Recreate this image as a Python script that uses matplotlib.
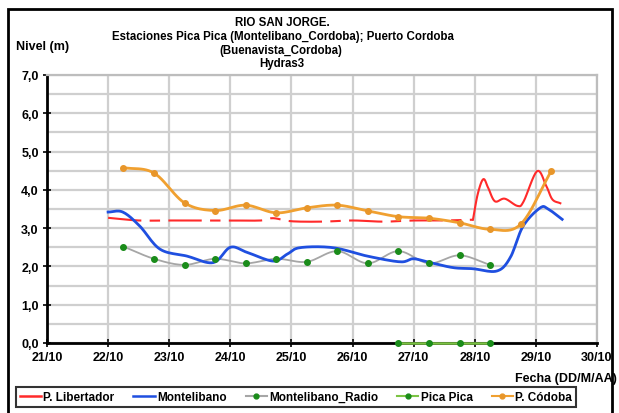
import numpy as np
import matplotlib
matplotlib.use("Agg")
import matplotlib.pyplot as plt
from matplotlib.lines import Line2D
from matplotlib.patches import Rectangle

plt.rcParams['font.family'] = ['Liberation Sans', 'DejaVu Sans']

# ---------------- data ----------------
x_ticks = [21, 22, 23, 24, 25, 26, 27, 28, 29, 30]
x_tick_labels = ["21/10", "22/10", "23/10", "24/10", "25/10", "26/10",
                 "27/10", "28/10", "29/10", "30/10"]
y_ticks = [0, 1, 2, 3, 4, 5, 6, 7]
y_tick_labels = ["0,0", "1,0", "2,0", "3,0", "4,0", "5,0", "6,0", "7,0"]

# P. Libertador (flat, dash-dot part)
lib_flat_x = [22.0, 22.5, 23.0, 23.5, 24.0, 24.5, 24.7, 25.0, 25.5, 26.0, 26.5, 27.0, 27.5, 27.97]
lib_flat_y = [3.27, 3.20, 3.20, 3.20, 3.20, 3.20, 3.26, 3.18, 3.17, 3.20, 3.17, 3.20, 3.20, 3.22]
# P. Libertador (spiky, solid part)
lib_spk_x = [27.97, 28.05, 28.14, 28.22, 28.33, 28.49, 28.70, 28.80, 29.02, 29.17, 29.27, 29.40]
lib_spk_y = [3.22, 3.90, 4.28, 4.05, 3.70, 3.77, 3.58, 3.70, 4.49, 4.10, 3.75, 3.65]

# Montelibano
mon_x = [22.0, 22.24, 22.52, 22.85, 23.29, 23.72, 24.0, 24.27, 24.7, 24.93, 25.14,
         25.68, 26.24, 26.78, 26.99, 27.22, 27.64, 27.97, 28.36, 28.58, 28.79,
         29.07, 29.2, 29.43]
mon_y = [3.42, 3.42, 3.05, 2.45, 2.27, 2.10, 2.50, 2.37, 2.14, 2.32, 2.49,
         2.49, 2.27, 2.12, 2.20, 2.12, 1.97, 1.94, 1.88, 2.23, 3.05,
         3.53, 3.50, 3.23]

# Montelibano_Radio
rad_x = [22.25, 22.75, 23.25, 23.75, 24.25, 24.75, 25.25, 25.75, 26.25, 26.75, 27.25, 27.75, 28.25]
rad_y = [2.52, 2.20, 2.04, 2.20, 2.08, 2.20, 2.12, 2.40, 2.08, 2.40, 2.08, 2.29, 2.04]

# Pica Pica
pica_x = [26.75, 27.25, 27.75, 28.25]
pica_y = [0.0, 0.0, 0.0, 0.0]

# P. Córdoba
cor_x = [22.25, 22.75, 23.25, 23.75, 24.25, 24.75, 25.25, 25.75, 26.25, 26.75,
         27.25, 27.75, 28.25, 28.75, 29.25]
cor_y = [4.58, 4.44, 3.66, 3.46, 3.60, 3.40, 3.53, 3.60, 3.45, 3.30,
         3.26, 3.14, 2.97, 3.10, 4.49]


def smooth(xs, ys, n=12):
    """Catmull-Rom smoothing (like Excel's smoothed lines)."""
    p = np.column_stack([xs, ys]).astype(float)
    if len(p) < 3:
        return p[:, 0], p[:, 1]
    ext = np.vstack([p[0] - (p[1] - p[0]), p, p[-1] + (p[-1] - p[-2])])
    out = []
    t = np.linspace(0, 1, n, endpoint=False)[:, None]
    for i in range(1, len(ext) - 2):
        p0, p1, p2, p3 = ext[i - 1], ext[i], ext[i + 1], ext[i + 2]
        c = 0.5 * ((2 * p1) + (-p0 + p2) * t + (2 * p0 - 5 * p1 + 4 * p2 - p3) * t ** 2
                   + (-p0 + 3 * p1 - 3 * p2 + p3) * t ** 3)
        out.append(c)
    out.append(p[-1][None, :])
    out = np.vstack(out)
    return out[:, 0], out[:, 1]


W, H = 619, 414
fig = plt.figure(figsize=(W / 100, H / 100), dpi=100)
ax = fig.add_axes([47 / W, 1 - 344 / H, (597 - 47) / W, (344 - 76) / H])

c_red = '#ff2a2a'
c_blue = '#1f4fe0'
c_gray = '#a6a6a6'
c_green_m = '#1a8c1a'
c_lgreen = '#7cc444'
c_orange = '#f0a030'
c_orange_m = '#e8962a'

# grid
ax.set_xlim(21, 30)
ax.set_ylim(0, 7)
ax.set_xticks(x_ticks)
ax.set_xticklabels(x_tick_labels, fontsize=9, fontweight='bold')
ax.set_yticks(y_ticks)
ax.set_yticklabels(y_tick_labels, fontsize=9, fontweight='bold')
ax.set_yticks(np.arange(0, 7.01, 0.5), minor=True)
ax.grid(True, which='both', color='#cfcfcf', linewidth=1.6)
ax.set_axisbelow(True)
ax.tick_params(axis='both', which='major', direction='inout', length=6, width=1.2, pad=3)
ax.tick_params(axis='y', which='minor', length=0)
for s in ['left', 'bottom']:
    ax.spines[s].set_color('black')
    ax.spines[s].set_linewidth(2.0)
for s in ['top', 'right']:
    ax.spines[s].set_color('#bdbdbd')
    ax.spines[s].set_linewidth(1.6)

# series
sx, sy = smooth(lib_flat_x, lib_flat_y)
ax.plot(sx, sy, color=c_red, lw=1.5, linestyle=(0, (16, 4, 5, 4)), zorder=3)
sx, sy = smooth(lib_spk_x, lib_spk_y, n=8)
ax.plot(sx, sy, color=c_red, lw=1.5, zorder=3)

sx, sy = smooth(mon_x, mon_y)
ax.plot(sx, sy, color=c_blue, lw=2.0, zorder=4)

sx, sy = smooth(rad_x, rad_y)
ax.plot(sx, sy, color=c_gray, lw=1.3, zorder=3)
ax.plot(rad_x, rad_y, linestyle='none', marker='o', ms=4, color=c_green_m, zorder=5)

ax.plot(pica_x, pica_y, color=c_lgreen, lw=1.8, zorder=5, clip_on=False)
ax.plot(pica_x, pica_y, linestyle='none', marker='o', ms=4, color=c_green_m, zorder=6, clip_on=False)

sx, sy = smooth(cor_x, cor_y)
ax.plot(sx, sy, color=c_orange, lw=2.0, zorder=4)
ax.plot(cor_x, cor_y, linestyle='none', marker='o', ms=4, color=c_orange_m, zorder=5)

# texts
tfs = 8.3
fig.text(282 / W, 1 - 23 / H, "RIO SAN JORGE.", ha='center', va='center', fontsize=tfs, fontweight='bold')
fig.text(283 / W, 1 - 37 / H, "Estaciones Pica Pica (Montelibano_Cordoba); Puerto Cordoba",
         ha='center', va='center', fontsize=tfs, fontweight='bold')
fig.text(281 / W, 1 - 51 / H, "(Buenavista_Cordoba)", ha='center', va='center', fontsize=tfs, fontweight='bold')
fig.text(282 / W, 1 - 64 / H, "Hydras3", ha='center', va='center', fontsize=tfs, fontweight='bold')
fig.text(43 / W, 1 - 47 / H, "Nivel (m)", ha='center', va='center', fontsize=9, fontweight='bold')
fig.text(617 / W, 1 - 379 / H, "Fecha (DD/M/AA)", ha='right', va='center', fontsize=9, fontweight='bold')

# legend
handles = [
    Line2D([], [], color=c_red, lw=1.8),
    Line2D([], [], color=c_blue, lw=1.8),
    Line2D([], [], color=c_gray, lw=1.5, marker='o', ms=3.5, mfc=c_green_m, mec=c_green_m),
    Line2D([], [], color=c_lgreen, lw=1.5, marker='o', ms=3.5, mfc=c_green_m, mec=c_green_m),
    Line2D([], [], color=c_orange, lw=1.5, marker='o', ms=3.5, mfc=c_orange_m, mec=c_orange_m),
]
labels = ["P. Libertador", "Montelibano", "Montelibano_Radio", "Pica Pica", "P. Códoba"]
leg = fig.legend(handles, labels, loc='center', bbox_to_anchor=(296 / W, 1 - 398 / H),
                 ncol=5, frameon=True, fancybox=False, handlelength=1.8, handletextpad=0.2,
                 columnspacing=1.6, borderpad=0.3,
                 prop={'size': 8.5, 'weight': 'bold'})
leg.get_frame().set_edgecolor('black')
leg.get_frame().set_linewidth(1.5)

# outer border
fig.patches.append(Rectangle((8 / W, -0.05), (612 - 8) / W, 1 - 10 / H + 0.05,
                             transform=fig.transFigure, fill=False, edgecolor='black',
                             linewidth=2.0))

fig.savefig("out.png", dpi=100)
